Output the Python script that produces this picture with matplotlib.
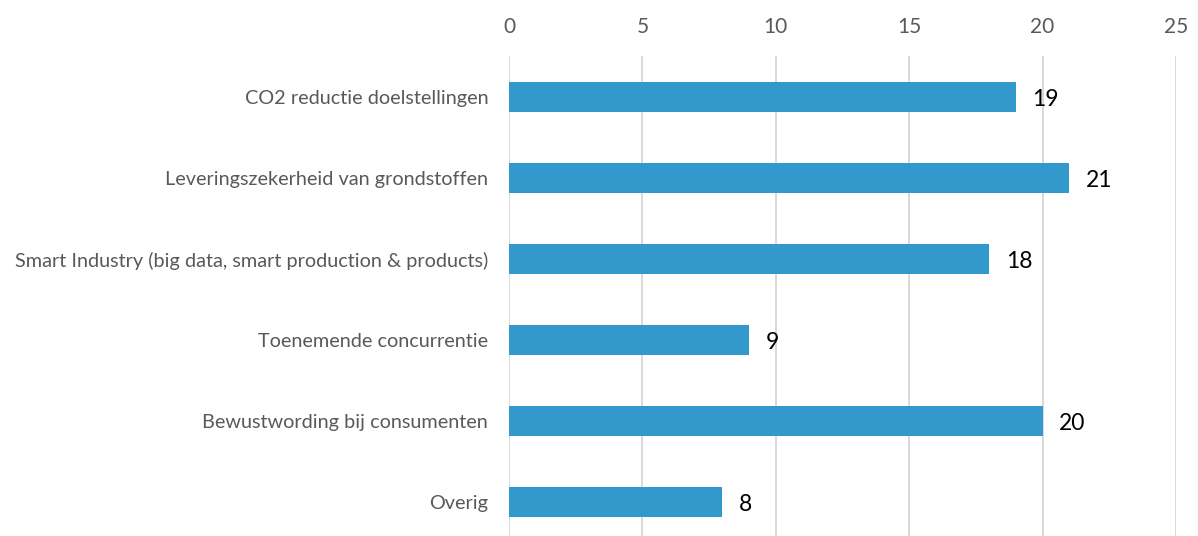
import matplotlib
matplotlib.use("Agg")
import matplotlib.pyplot as plt

categories = ["CO2 reductie doelstellingen", "Leveringszekerheid van grondstoffen",
              "Smart Industry (big data, smart production & products)", "Toenemende concurrentie",
              "Bewustwording bij consumenten", "Overig"]
values = [19, 21, 18, 9, 20, 8]
xticks = [0, 5, 10, 15, 20, 25]

plt.rcParams['font.family'] = ['Lato', 'DejaVu Sans']

fig = plt.figure(figsize=(11.98, 5.36), dpi=100)
ax = fig.add_axes([509/1198, 0.0, (1176-509)/1198, 1 - 56/536])

pos = list(range(len(categories)))
ax.barh(pos, values, height=0.36, color="#3399CC", zorder=3)
for p, v in zip(pos, values):
    ax.annotate(str(v), (v, p), xytext=(12, -2), textcoords="offset points",
                va="center", ha="left", fontsize=16.5, color="black")

ax.set_xlim(0, 25)
ax.set_ylim(5.42, -0.506)
ax.set_xticks(xticks)
ax.set_yticks(pos)
ax.set_yticklabels(categories, fontsize=14.3, color="#595959")
ax.xaxis.tick_top()
ax.tick_params(axis="x", length=0, pad=14, labelsize=15, labelcolor="#595959")
ax.tick_params(axis="y", length=0, pad=15)
ax.grid(axis="x", color="#D9D9D9", linewidth=1.4, zorder=0)
for s in ax.spines.values():
    s.set_visible(False)

fig.savefig("out.png", dpi=100)
